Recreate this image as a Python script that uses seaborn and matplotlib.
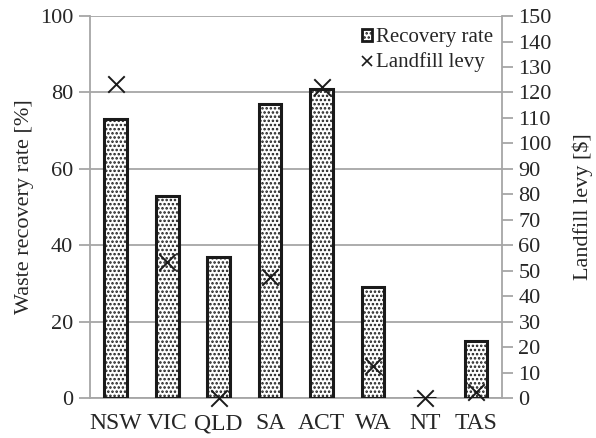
import numpy as np
import pandas as pd
import matplotlib
matplotlib.use("Agg")
import matplotlib.pyplot as plt
import seaborn as sns
from matplotlib.lines import Line2D
from matplotlib.patches import Patch

# data
states = ["NSW", "VIC", "QLD", "SA", "ACT", "WA", "NT", "TAS"]
recovery_rate = [73, 53, 37, 77, 81, 29, 0, 15]
landfill_levy = [123.5, 53.5, 0, 47.5, 122, 12.5, 0, 2.5]

df = pd.DataFrame({"state": states, "rate": recovery_rate, "levy": landfill_levy})

sns.set_style("white")
plt.rcParams["font.family"] = ["Liberation Serif", "DejaVu Serif"]
plt.rcParams["hatch.color"] = "#222222"
plt.rcParams["hatch.linewidth"] = 1.2

grid_col = "#a6a6a6"

fig = plt.figure(figsize=(5.96, 4.38), dpi=100)
ax = fig.add_axes([0.151, 0.0913, 0.691, 0.872])

sns.barplot(data=df, x="state", y="rate", order=states, color="white",
            width=0.44, edgecolor="#1a1a1a", linewidth=2.2, ax=ax, zorder=3)
for p in ax.patches:
    p.set_hatch("....")

ax.set_ylim(0, 100)
ax.set_yticks([0, 20, 40, 60, 80, 100])
ax.yaxis.grid(True, color=grid_col, linewidth=1.3, zorder=0)
ax.set_axisbelow(True)
ax.set_xlabel("")
ax.set_ylabel("Waste recovery rate [%]", fontsize=16)
ax.tick_params(axis="y", labelsize=16, length=8, width=1.3, color=grid_col, pad=4, left=True)
ax.tick_params(axis="x", labelsize=17, length=0, pad=11)
for side in ["top", "right"]:
    ax.spines[side].set_visible(False)
for side in ["left", "bottom"]:
    ax.spines[side].set_color(grid_col)
    ax.spines[side].set_linewidth(1.3)

ax2 = ax.twinx()
sns.scatterplot(data=df, x="state", y="levy", marker="x", color="#1a1a1a",
                s=140, linewidth=1.4, ax=ax2, zorder=5, clip_on=False)
ax2.set_ylim(0, 150)
ax2.set_yticks(range(0, 151, 10))
ax2.set_ylabel("Landfill levy [$]", fontsize=16, labelpad=15)
ax2.tick_params(axis="y", labelsize=16, length=8, width=1.3, color=grid_col, pad=4, right=True)
for side in ["top", "left", "bottom"]:
    ax2.spines[side].set_visible(False)
ax2.spines["right"].set_color(grid_col)
ax2.spines["right"].set_linewidth(1.3)
ax2.grid(False)
ax.set_xlim(-0.5, len(states) - 0.5)

handles = [Patch(facecolor="white", edgecolor="#1a1a1a", hatch="....", linewidth=2),
           Line2D([], [], marker="x", color="#1a1a1a", linestyle="none", markersize=7, mew=1.2)]
ax2.legend(handles, ["Recovery rate", "Landfill levy"], loc="upper right",
           bbox_to_anchor=(0.995, 0.985), frameon=True, facecolor="white", edgecolor="none",
           framealpha=1, fontsize=15, handlelength=0.5, handleheight=0.5, handletextpad=0.2,
           borderpad=0.2, labelspacing=0.25, borderaxespad=0.1)

fig.savefig("out.png", dpi=100)
